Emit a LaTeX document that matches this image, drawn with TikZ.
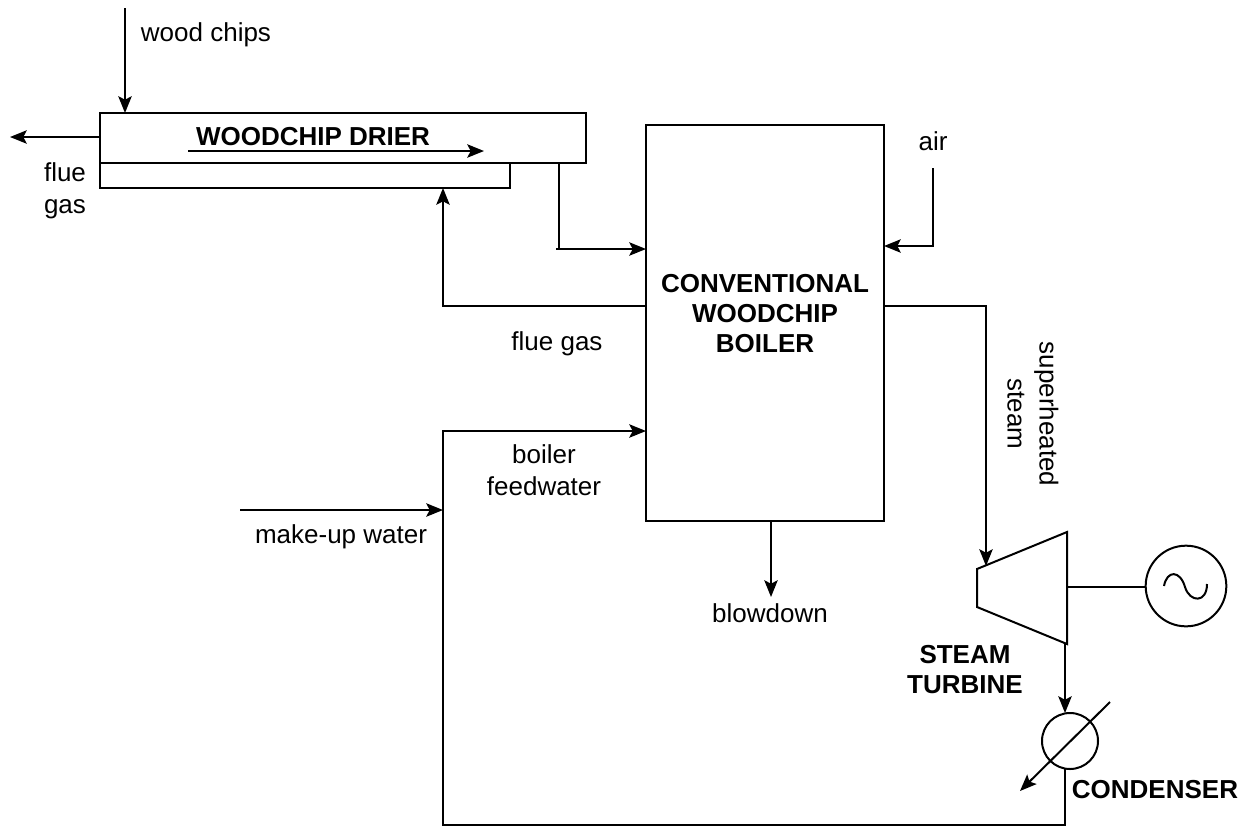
\documentclass[tikz,border=0pt]{standalone}
\usepackage{fontspec}
\setmainfont{Liberation Sans}
\usetikzlibrary{arrows.meta}
\tikzset{
  pipe/.style={line width=1.5pt, -{Stealth[length=12.5pt, width=10pt, inset=2.5pt]}},
  line/.style={line width=1.5pt},
  unit/.style={draw, line width=1.5pt, rectangle, inner sep=0pt, outer sep=0pt},
  lbl/.style={inner sep=0pt, align=center, font=\fontsize{19.5}{24}\selectfont},
  tag/.style={inner sep=0pt, align=center, font=\fontsize{19.5}{22.5}\selectfont\bfseries}
}
\begin{document}
\begin{tikzpicture}[x=0.75pt, y=-0.75pt]
\path (0,0) rectangle (1246,826);
% units
\node[unit, minimum width=364.5pt, minimum height=37.5pt] (drier) at (343,138) {};
\node[unit, minimum width=307.5pt, minimum height=18.75pt] (jacket) at (305,175.5) {};
\node[unit, minimum width=178.5pt, minimum height=297pt] (boiler) at (765,323) {};
\node[draw, line width=1.5pt, circle, minimum size=60.5pt, inner sep=0pt, outer sep=0pt] (gen) at (1186,586) {};
\node[draw, line width=1.5pt, circle, minimum size=42pt, inner sep=0pt, outer sep=0pt] (cond) at (1070,741) {};
\draw[line, line join=miter] (977,569) coordinate (turbA) -- (1067,532) coordinate (turbB)
  -- (1067,644) coordinate (turbC) -- (977,607) coordinate (turbD) -- cycle;
\draw[line] (1164,586) .. controls (1167,570) and (1180,570) .. (1185,587)
  .. controls (1190,603) and (1207,603) .. (1207,584);
% labels
\node[tag] (drierlbl) at (313,137) {WOODCHIP DRIER};
\node[tag] (boilerlbl) at (765,314) {CONVENTIONAL\\WOODCHIP\\BOILER};
\node[tag] (turblbl) at (965,670) {STEAM\\TURBINE};
\node[tag] (condlbl) at (1155,790) {CONDENSER};
\node[lbl] (chipslbl) at (206,35) {wood chips};
\node[lbl] (flue1lbl) at (65,191) {flue\\gas};
\node[lbl] (airlbl) at (933,141) {air};
\node[lbl] (flue2lbl) at (557,344) {flue gas};
\node[lbl] (feedlbl) at (544,470) {boiler\\feedwater};
\node[lbl] (makelbl) at (341,537) {make-up water};
\node[lbl] (blowlbl) at (770,613) {blowdown};
\node[lbl, rotate=-90] (steamlbl) at (1033,414) {superheated\\steam};
% free ends
\coordinate (chipsin) at (125,8);
\coordinate (flueout) at (10,137);
\coordinate (airin) at (933,168);
\coordinate (makein) at (240,510);
\coordinate (blowout) at (771,597);
\coordinate (flowa) at (188,151);
\coordinate (flowb) at (484,151);
\coordinate (condtop) at (1110,702);
\coordinate (condbot) at (1020,791);
% connectors
\draw[pipe] (chipsin) -- (chipsin |- drier.north);
\draw[pipe] (drier.west |- flueout) -- (flueout);
\draw[pipe] (flowa) -- (flowb);
\draw[line] (559,163) -- (559,249);
\draw[pipe] (556,249) -- (boiler.west |- 0,249);
\draw[pipe] (boiler.west |- 0,306) -| (443,188);
\draw[pipe] (1065,769) -- (1065,825) -- (443,825) |- (boiler.west |- 0,431);
\draw[pipe] (makein) -- (443,510);
\draw[pipe] (airin) |- (boiler.east |- 0,246);
\draw[pipe] (boiler.east |- 0,306) -| (986,566);
\draw[pipe] (boiler.south -| blowout) -- (blowout);
\draw[line] (1067,587) -- (gen.west |- 0,587);
\draw[pipe] (1065,644) -- (1065,713);
\draw[pipe] (condtop) -- (condbot);
\end{tikzpicture}
\end{document}
